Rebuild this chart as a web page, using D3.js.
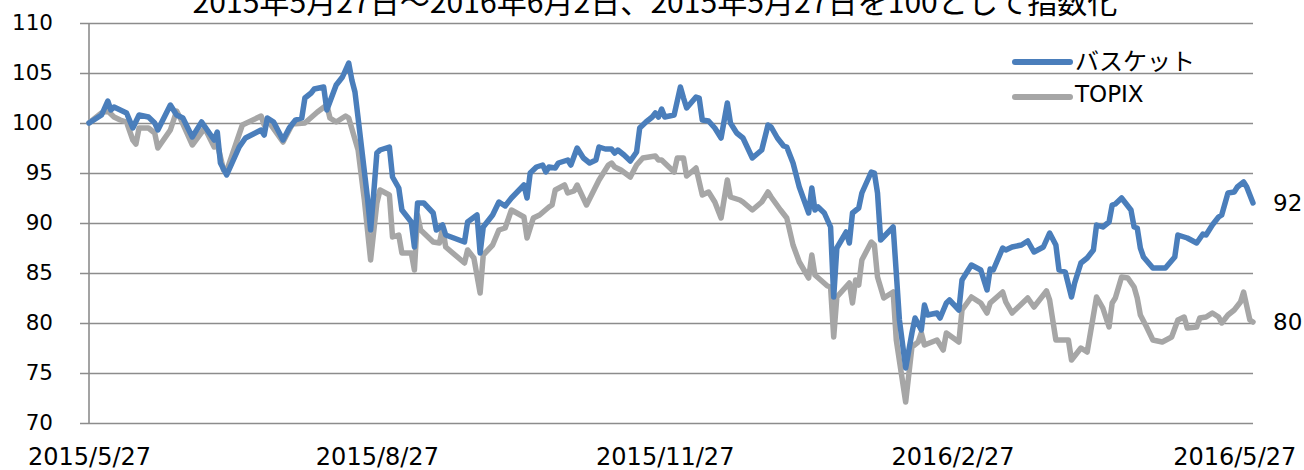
<!DOCTYPE html>
<html>
<head>
<meta charset="utf-8">
<script src="https://cdn.jsdelivr.net/npm/d3@7"></script>
<style>
  body { margin: 0; background: #fff; }
  text { fill: #000; }
</style>
</head>
<body>
<div id="chart"></div>
<script>
// Chart text
var titleText = "2015年5月27日～2016年6月2日、2015年5月27日を100として指数化";
var seriesNames = ["バスケット", "TOPIX"];
var xTickDates = ["2015-05-27", "2015-08-27", "2015-11-27", "2016-02-27", "2016-05-27"];
var yTicks = [70, 75, 80, 85, 90, 95, 100, 105, 110];
var endLabels = ["92", "80"];

// Basket (blue)
var basketDates = [
  "2015-05-27", "2015-05-31", "2015-06-02", "2015-06-03", "2015-06-04", "2015-06-06", "2015-06-08", "2015-06-10",
  "2015-06-12", "2015-06-15", "2015-06-16", "2015-06-17", "2015-06-18", "2015-06-22", "2015-06-24", "2015-06-26",
  "2015-06-29", "2015-07-02", "2015-07-06", "2015-07-07", "2015-07-08", "2015-07-10", "2015-07-14", "2015-07-16",
  "2015-07-21", "2015-07-22", "2015-07-23", "2015-07-25", "2015-07-28", "2015-07-30", "2015-08-01", "2015-08-03",
  "2015-08-04", "2015-08-06", "2015-08-07", "2015-08-10", "2015-08-11", "2015-08-14", "2015-08-16", "2015-08-18",
  "2015-08-19", "2015-08-20", "2015-08-21", "2015-08-24", "2015-08-25", "2015-08-26", "2015-08-27", "2015-08-28",
  "2015-08-31", "2015-09-01", "2015-09-03", "2015-09-04", "2015-09-07", "2015-09-08", "2015-09-09", "2015-09-11",
  "2015-09-14", "2015-09-15", "2015-09-17", "2015-09-18", "2015-09-24", "2015-09-25", "2015-09-28", "2015-09-29",
  "2015-09-30", "2015-10-03", "2015-10-05", "2015-10-07", "2015-10-09", "2015-10-13", "2015-10-14", "2015-10-15",
  "2015-10-17", "2015-10-19", "2015-10-20", "2015-10-21", "2015-10-23", "2015-10-24", "2015-10-27", "2015-10-28",
  "2015-10-30", "2015-11-01", "2015-11-03", "2015-11-05", "2015-11-06", "2015-11-08", "2015-11-10", "2015-11-11",
  "2015-11-12", "2015-11-14", "2015-11-16", "2015-11-18", "2015-11-19", "2015-11-21", "2015-11-23", "2015-11-24",
  "2015-11-25", "2015-11-26", "2015-11-27", "2015-11-30", "2015-12-02", "2015-12-03", "2015-12-04", "2015-12-07",
  "2015-12-08", "2015-12-09", "2015-12-11", "2015-12-13", "2015-12-15", "2015-12-17", "2015-12-18", "2015-12-20",
  "2015-12-22", "2015-12-25", "2015-12-28", "2015-12-30", "2015-12-31", "2016-01-02", "2016-01-04", "2016-01-05",
  "2016-01-07", "2016-01-09", "2016-01-12", "2016-01-13", "2016-01-14", "2016-01-15", "2016-01-17", "2016-01-19",
  "2016-01-20", "2016-01-21", "2016-01-24", "2016-01-25", "2016-01-26", "2016-01-28", "2016-01-29", "2016-02-01",
  "2016-02-02", "2016-02-03", "2016-02-04", "2016-02-08", "2016-02-09", "2016-02-10", "2016-02-12", "2016-02-14",
  "2016-02-15", "2016-02-17", "2016-02-18", "2016-02-19", "2016-02-22", "2016-02-23", "2016-02-25", "2016-02-26",
  "2016-02-29", "2016-03-01", "2016-03-04", "2016-03-07", "2016-03-09", "2016-03-10", "2016-03-11", "2016-03-14",
  "2016-03-15", "2016-03-17", "2016-03-20", "2016-03-22", "2016-03-24", "2016-03-27", "2016-03-29", "2016-03-31",
  "2016-04-01", "2016-04-03", "2016-04-05", "2016-04-06", "2016-04-08", "2016-04-10", "2016-04-12", "2016-04-13",
  "2016-04-15", "2016-04-17", "2016-04-18", "2016-04-19", "2016-04-21", "2016-04-24", "2016-04-25", "2016-04-26",
  "2016-04-27", "2016-04-28", "2016-05-01", "2016-05-05", "2016-05-08", "2016-05-09", "2016-05-12", "2016-05-15",
  "2016-05-17", "2016-05-18", "2016-05-20", "2016-05-22", "2016-05-23", "2016-05-25", "2016-05-27", "2016-05-28",
  "2016-05-30", "2016-05-31", "2016-06-02"
];
var basketValues = [
  100, 100.8, 102.2, 101.3, 101.6, 101.3, 101.0, 99.5,
  100.8, 100.6, 100.3, 100.0, 99.3, 101.8, 100.8, 100.5,
  98.6, 100.1, 98.3, 99.1, 96.0, 94.8, 97.6, 98.5,
  99.3, 98.8, 100.5, 100.1, 98.3, 99.5, 100.3, 100.5,
  102.5, 103.0, 103.4, 103.6, 101.3, 103.8, 104.6, 106.0,
  104.3, 103.1, 100.5, 92.5, 89.3, 93.0, 97.0, 97.3,
  97.6, 94.6, 93.5, 91.3, 90.1, 87.6, 92.0, 92.0,
  91.0, 89.3, 89.8, 88.8, 88.1, 90.1, 90.8, 87.0,
  89.6, 90.8, 92.1, 91.7, 92.5, 93.8, 92.5, 95.0,
  95.6, 95.8, 95.1, 95.6, 95.5, 96.0, 96.3, 95.8,
  97.5, 96.5, 96.0, 96.3, 97.6, 97.4, 97.4, 97.0,
  97.3, 96.8, 96.2, 97.1, 99.5, 100.1, 100.6, 101.0,
  100.6, 101.4, 100.6, 100.8, 103.6, 102.5, 101.5, 102.6,
  102.5, 100.3, 100.2, 99.5, 98.5, 102.0, 100.0, 99.0,
  98.5, 96.5, 97.3, 99.8, 99.6, 98.5, 97.7, 97.6,
  96.0, 93.6, 91.0, 93.5, 91.3, 91.6, 91.0, 89.6,
  82.6, 87.5, 89.1, 88.0, 91.0, 91.5, 93.0, 95.1,
  95.0, 93.0, 88.3, 89.6, 85.0, 80.3, 75.5, 79.0,
  80.5, 79.3, 81.8, 80.8, 81.0, 80.5, 82.0, 82.3,
  81.3, 84.3, 85.8, 85.3, 83.3, 85.4, 85.3, 87.5,
  87.3, 87.6, 87.8, 88.2, 87.1, 87.6, 89.0, 87.8,
  85.3, 85.1, 82.6, 84.0, 86.0, 86.5, 87.3, 89.8,
  89.6, 90.1, 91.8, 91.9, 92.5, 91.3, 89.6, 89.5,
  87.5, 86.6, 85.5, 85.5, 86.6, 88.8, 88.5, 88.0,
  88.9, 88.8, 89.8, 90.6, 90.8, 93.0, 93.1, 93.6,
  94.1, 93.6, 92.0
];

// TOPIX (grey)
var topixDates = [
  "2015-05-27", "2015-05-31", "2015-06-02", "2015-06-04", "2015-06-06", "2015-06-08", "2015-06-10", "2015-06-11",
  "2015-06-12", "2015-06-15", "2015-06-17", "2015-06-18", "2015-06-22", "2015-06-24", "2015-06-25", "2015-06-29",
  "2015-07-03", "2015-07-06", "2015-07-07", "2015-07-09", "2015-07-10", "2015-07-15", "2015-07-21", "2015-07-22",
  "2015-07-23", "2015-07-28", "2015-07-31", "2015-08-04", "2015-08-08", "2015-08-11", "2015-08-12", "2015-08-14",
  "2015-08-17", "2015-08-18", "2015-08-21", "2015-08-23", "2015-08-25", "2015-08-27", "2015-08-28", "2015-08-31",
  "2015-09-01", "2015-09-03", "2015-09-04", "2015-09-07", "2015-09-08", "2015-09-09", "2015-09-10", "2015-09-14",
  "2015-09-16", "2015-09-17", "2015-09-18", "2015-09-24", "2015-09-25", "2015-09-27", "2015-09-29", "2015-09-30",
  "2015-10-03", "2015-10-05", "2015-10-07", "2015-10-09", "2015-10-13", "2015-10-14", "2015-10-16", "2015-10-18",
  "2015-10-21", "2015-10-22", "2015-10-23", "2015-10-26", "2015-10-27", "2015-10-29", "2015-10-30", "2015-11-02",
  "2015-11-06", "2015-11-09", "2015-11-10", "2015-11-11", "2015-11-13", "2015-11-16", "2015-11-18", "2015-11-20",
  "2015-11-24", "2015-11-25", "2015-11-26", "2015-11-30", "2015-12-01", "2015-12-03", "2015-12-04", "2015-12-07",
  "2015-12-09", "2015-12-11", "2015-12-13", "2015-12-15", "2015-12-17", "2015-12-18", "2015-12-21", "2015-12-22",
  "2015-12-25", "2015-12-28", "2015-12-30", "2015-12-31", "2016-01-03", "2016-01-05", "2016-01-07", "2016-01-09",
  "2016-01-12", "2016-01-13", "2016-01-14", "2016-01-18", "2016-01-19", "2016-01-20", "2016-01-21", "2016-01-25",
  "2016-01-26", "2016-01-27", "2016-01-28", "2016-01-29", "2016-02-01", "2016-02-02", "2016-02-03", "2016-02-05",
  "2016-02-08", "2016-02-09", "2016-02-12", "2016-02-14", "2016-02-16", "2016-02-17", "2016-02-18", "2016-02-22",
  "2016-02-24", "2016-02-25", "2016-02-29", "2016-03-01", "2016-03-04", "2016-03-07", "2016-03-09", "2016-03-10",
  "2016-03-14", "2016-03-15", "2016-03-17", "2016-03-22", "2016-03-24", "2016-03-28", "2016-03-29", "2016-03-31",
  "2016-04-04", "2016-04-05", "2016-04-08", "2016-04-10", "2016-04-13", "2016-04-15", "2016-04-17", "2016-04-18",
  "2016-04-19", "2016-04-21", "2016-04-23", "2016-04-25", "2016-04-26", "2016-04-27", "2016-04-29", "2016-05-01",
  "2016-05-04", "2016-05-07", "2016-05-09", "2016-05-11", "2016-05-12", "2016-05-15", "2016-05-16", "2016-05-18",
  "2016-05-20", "2016-05-22", "2016-05-23", "2016-05-25", "2016-05-27", "2016-05-29", "2016-05-30", "2016-06-01",
  "2016-06-02"
];
var topixValues = [
  100, 101.0, 101.2, 100.6, 100.3, 100.1, 98.3, 97.9,
  99.5, 99.5, 99.0, 97.5, 99.3, 101.2, 100.6, 97.8,
  99.5, 97.6, 97.9, 95.3, 95.2, 99.8, 100.7, 99.8,
  100.3, 98.1, 99.9, 100.0, 101.1, 101.8, 100.5, 100.1,
  100.7, 100.5, 97.3, 92.3, 86.3, 92.0, 93.3, 92.8,
  88.6, 88.8, 87.0, 87.0, 85.3, 90.8, 89.3, 88.1,
  88.0, 89.5, 87.6, 86.0, 87.3, 86.5, 83.0, 86.8,
  87.8, 89.3, 89.5, 91.3, 90.6, 88.5, 90.5, 90.8,
  91.6, 91.8, 93.3, 93.8, 93.0, 93.2, 93.8, 91.8,
  94.3, 95.8, 96.0, 95.6, 95.3, 94.6, 95.8, 96.5,
  96.7, 96.3, 96.3, 95.1, 96.5, 96.5, 94.7, 95.5,
  92.8, 93.1, 92.1, 90.5, 94.3, 92.6, 92.3, 92.1,
  91.3, 92.1, 93.1, 92.6, 91.3, 90.5, 87.8, 86.1,
  84.5, 86.8, 84.8, 83.7, 83.6, 78.6, 82.6, 84.0,
  82.0, 84.3, 83.8, 86.3, 88.1, 87.8, 84.6, 82.5,
  83.1, 78.3, 72.1, 77.6, 78.1, 79.0, 77.8, 78.3,
  77.3, 79.0, 78.1, 81.3, 82.6, 82.0, 81.0, 82.0,
  83.1, 82.1, 81.0, 82.5, 81.6, 83.2, 82.3, 78.3,
  78.3, 76.3, 77.5, 77.1, 82.6, 81.5, 79.6, 82.0,
  82.5, 84.6, 84.5, 83.6, 82.5, 80.8, 79.6, 78.3,
  78.1, 78.6, 80.3, 80.6, 79.5, 79.6, 80.5, 80.6,
  81.0, 80.6, 80.0, 80.8, 81.3, 82.1, 83.1, 80.3,
  80.1
];

var colors = ["#4a7ebb", "#a6a6a6"];

// Layout
var svgWidth = 1304;
var svgHeight = 470;
var plot = { left: 89, right: 1253, top: 23, bottom: 423 };

var parseDate = d3.timeParse("%Y-%m-%d");
var formatDate = d3.timeFormat("%Y/%-m/%-d");

var series = [
  basketDates.map(function(d, i) { return { date: parseDate(d), value: basketValues[i] }; }),
  topixDates.map(function(d, i) { return { date: parseDate(d), value: topixValues[i] }; })
];

var svg = d3.select("#chart")
  .append("svg")
  .attr("width", svgWidth)
  .attr("height", svgHeight)
  .style("font-family", "'DejaVu Sans', Verdana, sans-serif");

svg.append("rect").attr("width", svgWidth).attr("height", svgHeight).attr("fill", "#fff");

// Scales
var xScale = d3.scaleTime()
  .domain([parseDate("2015-05-27"), parseDate("2016-06-02")])
  .range([plot.left, plot.right]);

var yScale = d3.scaleLinear()
  .domain([70, 110])
  .range([plot.bottom, plot.top]);

// Y axis with gridlines
var yAxis = d3.axisLeft(yScale)
  .tickValues(yTicks)
  .tickSize(-(plot.right - 80))
  .tickPadding(27)
  .tickFormat(d3.format("d"));

var yAxisGroup = svg.append("g")
  .attr("transform", "translate(80,0)")
  .call(yAxis);
yAxisGroup.select(".domain").remove();
yAxisGroup.selectAll("line").attr("stroke", "#8c8c8c").attr("stroke-width", 1.6);
yAxisGroup.selectAll("text")
  .attr("fill", "#000")
  .style("font-size", "21.5px")
  .style("font-family", "'DejaVu Sans', Verdana, sans-serif");

// vertical axis line
svg.append("line")
  .attr("x1", plot.left).attr("x2", plot.left)
  .attr("y1", yScale(110)).attr("y2", yScale(70))
  .attr("stroke", "#8c8c8c")
  .attr("stroke-width", 1.6);

// X axis labels
var xAxis = d3.axisBottom(xScale)
  .tickValues(xTickDates.map(parseDate))
  .tickSize(0)
  .tickPadding(0)
  .tickFormat(formatDate);

var xAxisGroup = svg.append("g")
  .attr("transform", "translate(0," + plot.bottom + ")")
  .call(xAxis);
xAxisGroup.select(".domain").remove();
xAxisGroup.selectAll("text")
  .attr("fill", "#000")
  .attr("dy", null)
  .attr("y", 42)
  .style("font-size", "24px")
  .style("font-family", "'DejaVu Sans', Verdana, sans-serif");

// Lines (grey first so blue is on top)
var line = d3.line()
  .x(function(d) { return xScale(d.date); })
  .y(function(d) { return yScale(d.value); })
  .curve(d3.curveLinear);

[1, 0].forEach(function(k) {
  svg.append("path")
    .datum(series[k])
    .attr("fill", "none")
    .attr("stroke", colors[k])
    .attr("stroke-width", 5.5)
    .attr("stroke-linejoin", "round")
    .attr("stroke-linecap", "round")
    .attr("d", line);
});

// End labels
series.forEach(function(s, k) {
  var last = s[s.length - 1];
  svg.append("text")
    .attr("x", plot.right + 20)
    .attr("y", yScale(last.value))
    .attr("dominant-baseline", "central")
    .style("font-size", "23px")
    .text(endLabels[k]);
});

// Legend
var legend = svg.append("g").attr("transform", "translate(1015,62)");
seriesNames.forEach(function(name, k) {
  var g = legend.append("g").attr("transform", "translate(0," + (k * 35) + ")");
  g.append("line")
    .attr("x1", 0).attr("x2", 55)
    .attr("stroke", colors[k])
    .attr("stroke-width", 6)
    .attr("stroke-linecap", "round");
  g.append("text")
    .attr("x", 60)
    .attr("y", -3)
    .attr("dominant-baseline", "central")
    .style("font-size", k === 0 ? "24px" : "23px")
    .style("font-family", k === 0 ? "'Noto Sans CJK JP', sans-serif" : "'DejaVu Sans', Verdana, sans-serif")
    .text(name);
});

// Title (top is clipped in the original)
var title = svg.append("text")
  .attr("x", 655)
  .attr("y", 13)
  .attr("text-anchor", "middle")
  .style("font-family", "'Noto Sans CJK JP', sans-serif")
  .style("font-size", "28px")
  .text(titleText);
var tw = title.node().getComputedTextLength();
title.style("font-size", (28 * 925 / tw).toFixed(1) + "px");
</script>
</body>
</html>
